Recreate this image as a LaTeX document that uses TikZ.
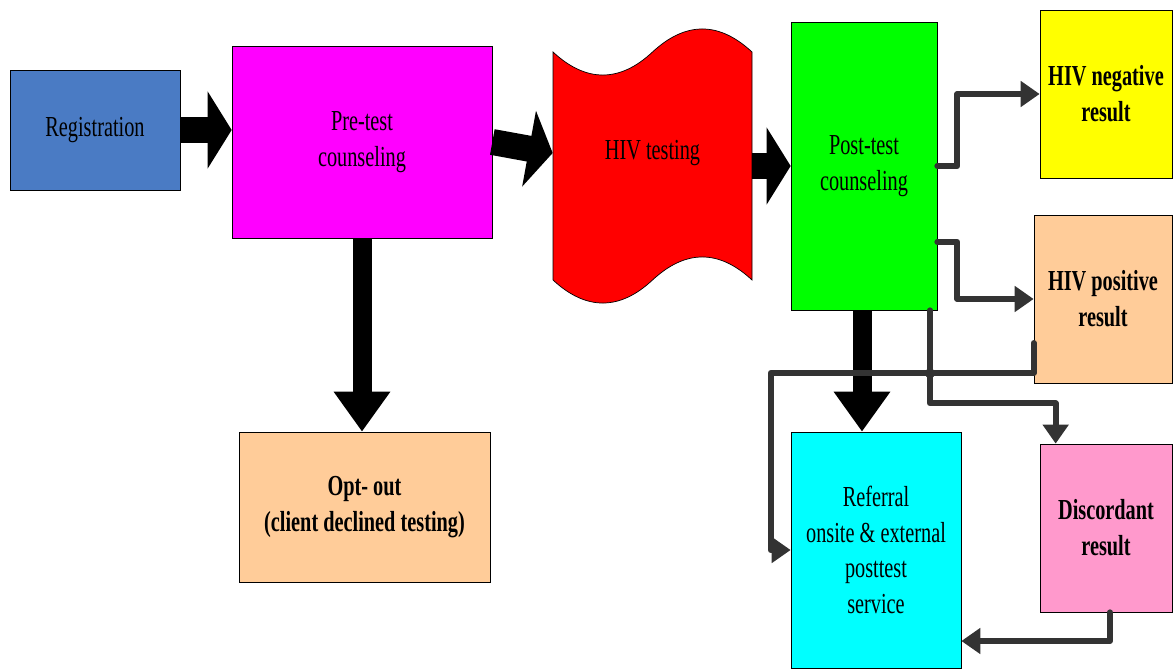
\documentclass[tikz,border=0pt]{standalone}
\usepackage{fontspec}
\setmainfont{Liberation Serif}[FakeStretch=0.7]
\usepackage{tikz}
\usetikzlibrary{positioning, arrows.meta, calc}

\definecolor{regblue}{RGB}{74,123,196}
\definecolor{pink}{RGB}{255,0,255}
\definecolor{lime}{RGB}{0,255,0}
\definecolor{sun}{RGB}{255,255,0}
\definecolor{aqua}{RGB}{0,255,255}
\definecolor{peach}{RGB}{255,204,153}
\definecolor{rose}{RGB}{255,153,204}
\definecolor{linkgray}{RGB}{51,51,51}

\begin{document}
\begin{tikzpicture}[x=0.02cm, y=-0.02cm,
		box/.style = {draw = black, thin, align = center, font = \fontsize{16.5}{20.4}\selectfont, inner sep = 0pt},
		boldbox/.style = {box, font = \fontsize{16.5}{20.4}\selectfont\bfseries},
		fat/.style = {draw = black, line width = 0.52cm, -{Triangle[length = 0.48cm, width = 1.52cm]}},
		fatdown/.style = {draw = black, line width = 0.38cm, -{Triangle[length = 0.8cm, width = 1.08cm]}},
		link/.style = {draw = linkgray, line width = 3.4pt, line cap = round, line join = round, -{Triangle[length = 0.38cm, width = 0.5cm]}}]
		\useasboundingbox (0, 0) rectangle (1173, 669);
		\filldraw[fill = red, draw = black, thin] (553, 52) .. controls (586, 82.7) and (619.7, 82.7) .. (652.5, 52) .. controls (685.7, 21.3) and (719, 21.3) .. (752, 52) -- (752, 280) .. controls (719, 249.3) and (685.7, 249.3) .. (652.5, 280) .. controls (619.7, 310.7) and (586, 310.7) .. (553, 280) -- cycle;
		\node[box, fill = regblue, minimum width = 3.4cm, minimum height = 2.4cm] (reg) at (95, 130) {Registration};
		\node[box, fill = pink, minimum width = 5.2cm, minimum height = 3.84cm] (pre) at (362, 142) {Pre-test\\counseling};
		\node[box, draw = none, minimum width = 3.98cm] (test) at (652.5, 153) {HIV testing};
		\node[box, fill = lime, minimum width = 2.92cm, minimum height = 5.76cm] (post) at (864, 166) {Post-test\\counseling};
		\node[boldbox, fill = sun, minimum width = 2.64cm, minimum height = 3.36cm] (neg) at (1106, 94) {HIV negative\\result};
		\node[boldbox, fill = peach, minimum width = 2.76cm, minimum height = 3.36cm] (pos) at (1103, 299) {HIV positive\\result};
		\node[boldbox, fill = peach, minimum width = 5.02cm, minimum height = 3cm] (opt) at (364.5, 507) {Opt- out\\(client declined testing)};
		\node[box, fill = aqua, minimum width = 3.4cm, minimum height = 4.72cm] (ref) at (876, 550) {Referral\\onsite \& external\\posttest\\service};
		\node[boldbox, fill = rose, minimum width = 2.64cm, minimum height = 3.36cm] (dis) at (1106, 528) {Discordant\\result};
		\draw[fat] (reg.east) -- (reg.east -| pre.west);
		\draw[fat] (pre.east) -- (test.west);
		\draw[fat] (test.east |- post.west) -- (post.west);
		\draw[fatdown] (pre.south) -- (pre.south |- opt.north);
		\draw[fatdown] ($(post.south)+(-2, 0)$) -- ($(post.south |- ref.north)+(-2, 0)$);
		\draw[link] (post.east) -- ++(20, 0) |- (neg.west);
		\draw[link] ($(post.east)+(0, 76)$) -- ++(20, 0) |- (pos.west);
		\draw[link] ($(pos.west)+(0, 44)$) |- ($(ref.west)+(-20, -177)$) |- (ref.west);
		\draw[link] ($(post.south)+(66, 0)$) -- ++(0, 93) -| ($(dis.north west)+(16, 0)$);
		\fill[linkgray] ($(post.south)+(66, 63)$) circle (5);
		\draw[link] ($(dis.south)+(4, 0)$) |- ($(ref.east)+(0, 91)$);
\end{tikzpicture}
\end{document}
